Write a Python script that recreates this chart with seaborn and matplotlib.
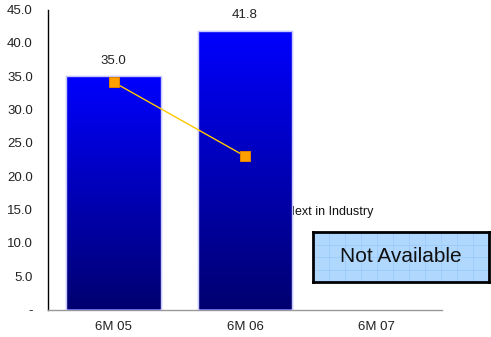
import numpy as np
import pandas as pd
import matplotlib
matplotlib.use("Agg")
import matplotlib.pyplot as plt
from matplotlib.colors import LinearSegmentedColormap
from matplotlib.patches import Rectangle
import seaborn as sns

sns.set_theme(style="white")
plt.rcParams["font.family"] = ["Liberation Sans", "DejaVu Sans"]

# Data
periods = ["6M 05", "6M 06", "6M 07"]
bar_values = [35.0, 41.8, np.nan]
line_values = [34.1, 23.0, np.nan]
y_ticks = [0, 5, 10, 15, 20, 25, 30, 35, 40, 45]
y_tick_labels = ["-", "5.0", "10.0", "15.0", "20.0", "25.0", "30.0", "35.0", "40.0", "45.0"]

df = pd.DataFrame({"period": periods, "value": bar_values, "peer": line_values})

fig = plt.figure(figsize=(4.91, 3.37), dpi=100)
ax = fig.add_axes([48 / 491, (337 - 309.5) / 337, (442 - 48) / 491, 300 / 337])

# Label behind the bars
ax.text(285.5 / 491, 1 - 212 / 337, "Next in Industry", fontsize=9,
        ha="left", va="center", color="#111111",
        transform=fig.transFigure, zorder=1)

sns.barplot(data=df, x="period", y="value", order=periods, width=0.72,
            color="#0000ff", edgecolor="#c8c8ff", linewidth=1.0, ax=ax,
            errorbar=None, zorder=2)

# Vertical gradient fill inside each bar
cmap = LinearSegmentedColormap.from_list("bluegrad", ["#000070", "#0000ff"])
grad = np.linspace(0, 1, 256).reshape(-1, 1)
for patch in ax.patches:
    h = patch.get_height()
    if not np.isfinite(h) or h <= 0:
        continue
    x0 = patch.get_x()
    w = patch.get_width()
    im = ax.imshow(grad, cmap=cmap, origin="lower", aspect="auto",
                   extent=[x0, x0 + w, 0, h], zorder=2.5)
    im.set_clip_path(patch)
    edge = Rectangle((x0, 0), w, h, fill=False, edgecolor="#c8c8ff",
                     linewidth=1.0, zorder=2.6)
    ax.add_patch(edge)
    ax.text(x0 + w / 2, h + 1.4, f"{h:.1f}", ha="center", va="bottom",
            fontsize=9.5, color="#222222")

# Peer line
sns.lineplot(x=[0, 1], y=line_values[:2], color="#ffc800", linewidth=1.0,
             marker="s", markersize=7, markerfacecolor="#ffa000",
             markeredgecolor="#e08000", ax=ax, zorder=4)

ax.set_xlim(-0.5, 2.5)
ax.set_ylim(0, 45)
ax.set_yticks(y_ticks)
ax.set_yticklabels(y_tick_labels, fontsize=9.5, color="#222222")
ax.set_xticks(range(len(periods)))
ax.set_xticklabels(periods, fontsize=9.5, color="#222222")
ax.set_xlabel("")
ax.set_ylabel("")

ax.tick_params(axis="x", which="major", length=0, pad=8)
ax.set_xticks([-0.5, 0.5, 1.5, 2.5], minor=True)
ax.tick_params(axis="x", which="minor", length=5, width=1, color="#555555", direction="out")
ax.tick_params(axis="y", which="major", length=5, width=1, color="black", direction="out", pad=6)

for s in ["top", "right"]:
    ax.spines[s].set_visible(False)
ax.spines["left"].set_color("black")
ax.spines["left"].set_linewidth(1.0)
ax.spines["bottom"].set_color("#999999")
ax.spines["bottom"].set_linewidth(1.0)

# Placeholder box
box_ax = fig.add_axes([313 / 491, 1 - 282 / 337, 176 / 491, 50 / 337])
box_ax.set_facecolor("#b0d8ff")
box_ax.set_xlim(0, 1)
box_ax.set_ylim(0, 1)
for gx in np.linspace(0, 1, 12):
    box_ax.axvline(gx, color="#9ccaf8", linewidth=0.6)
for gy in np.linspace(0, 1, 5):
    box_ax.axhline(gy, color="#9ccaf8", linewidth=0.6)
box_ax.set_xticks([])
box_ax.set_yticks([])
for s in box_ax.spines.values():
    s.set_color("black")
    s.set_linewidth(2)
box_ax.text(0.5, 0.5, "Not Available", ha="center", va="center",
            fontsize=15, color="#111111")

fig.savefig("out.png", dpi=100)
